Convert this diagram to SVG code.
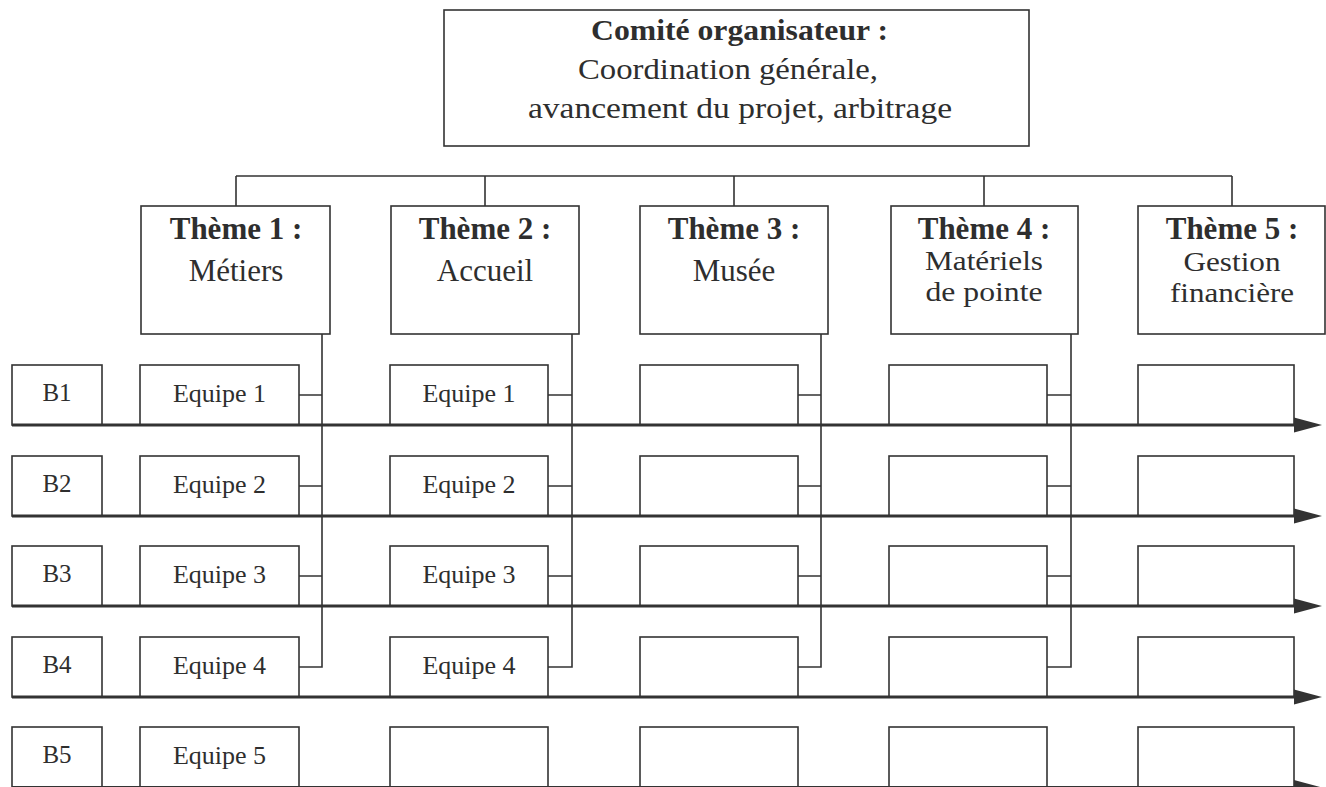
<svg xmlns="http://www.w3.org/2000/svg" width="1326" height="787" viewBox="0 0 1326 787">
  <style>
    .box { fill: #fff; stroke: #333; stroke-width: 1.6; }
    .wire { fill: none; stroke: #333; stroke-width: 1.6; }
    .axis { fill: none; stroke: #333; stroke-width: 3; }
    .head { fill: #333; }
    text { font-family: "Liberation Serif", "Times New Roman", serif; fill: #2e2e2e; }
    .title { font-size: 30px; }
    .th { font-size: 31px; text-anchor: middle; }
    .th2 { font-size: 28px; text-anchor: middle; }
    .b { font-weight: bold; }
    .eq { font-size: 26px; text-anchor: middle; }
    .bl { font-size: 25px; text-anchor: middle; }
  </style>
  <defs>
    <path id="arrowhead" class="head" d="M0,-7.5 L28,0 L0,7.5 Z"/>
  </defs>
  <rect width="1326" height="787" fill="#fff"/>

  <!-- steering committee -->
  <g id="comite">
    <rect class="box" x="444" y="10" width="585" height="136"/>
    <text class="title b" x="591" y="40" textLength="297" lengthAdjust="spacingAndGlyphs">Comité organisateur :</text>
    <text class="title" x="578" y="79" textLength="300" lengthAdjust="spacingAndGlyphs">Coordination générale,</text>
    <text class="title" x="528" y="118" textLength="424" lengthAdjust="spacingAndGlyphs">avancement du projet, arbitrage</text>
  </g>

  <!-- connectors: theme bus, theme-to-team risers -->
  <g id="connectors">
    <path class="wire" d="M236,176 H1232 M236,176 V206 M485,176 V206 M734,176 V206 M984,176 V206 M1232,176 V206"/>
    <!-- theme 1 -->
    <path class="wire" d="M322,334 V667 H299 M299,395 H322 M299,486 H322 M299,576 H322"/>
    <!-- theme 2 -->
    <path class="wire" d="M572,334 V667 H548 M548,395 H572 M548,486 H572 M548,576 H572"/>
    <!-- theme 3 -->
    <path class="wire" d="M821,334 V667 H798 M798,395 H821 M798,486 H821 M798,576 H821"/>
    <!-- theme 4 -->
    <path class="wire" d="M1071,334 V667 H1047 M1047,395 H1071 M1047,486 H1071 M1047,576 H1071"/>
  </g>

  <!-- themes -->
  <g id="theme1">
    <rect class="box" x="141" y="206" width="189" height="128"/>
    <text class="th b" x="236" y="239">Thème 1 :</text>
    <text class="th" x="236" y="281">Métiers</text>
  </g>
  <g id="theme2">
    <rect class="box" x="391" y="206" width="188" height="128"/>
    <text class="th b" x="485" y="239">Thème 2 :</text>
    <text class="th" x="485" y="281">Accueil</text>
  </g>
  <g id="theme3">
    <rect class="box" x="640" y="206" width="188" height="128"/>
    <text class="th b" x="734" y="239">Thème 3 :</text>
    <text class="th" x="734" y="281">Musée</text>
  </g>
  <g id="theme4">
    <rect class="box" x="891" y="206" width="187" height="128"/>
    <text class="th b" x="984" y="239">Thème 4 :</text>
    <text class="th2" x="984" y="270" textLength="118" lengthAdjust="spacingAndGlyphs">Matériels</text>
    <text class="th2" x="984" y="301" textLength="117" lengthAdjust="spacingAndGlyphs">de pointe</text>
  </g>
  <g id="theme5">
    <rect class="box" x="1138" y="206" width="187" height="128"/>
    <text class="th b" x="1232" y="239">Thème 5 :</text>
    <text class="th2" x="1232" y="271" textLength="97" lengthAdjust="spacingAndGlyphs">Gestion</text>
    <text class="th2" x="1232" y="302" textLength="124" lengthAdjust="spacingAndGlyphs">financière</text>
  </g>

  <!-- row B1 -->
  <g id="row1">
    <rect class="box" x="12" y="365" width="90" height="60"/>
    <text class="bl" x="57" y="401">B1</text>
    <rect class="box" x="140" y="365" width="159" height="60"/>
    <text class="eq" x="219.5" y="402">Equipe 1</text>
    <rect class="box" x="390" y="365" width="158" height="60"/>
    <text class="eq" x="469" y="402">Equipe 1</text>
    <rect class="box" x="640" y="365" width="158" height="60"/>
    <rect class="box" x="889" y="365" width="158" height="60"/>
    <rect class="box" x="1138" y="365" width="156" height="60"/>
  </g>
  <!-- row B2 -->
  <g id="row2">
    <rect class="box" x="12" y="456" width="90" height="60"/>
    <text class="bl" x="57" y="492">B2</text>
    <rect class="box" x="140" y="456" width="159" height="60"/>
    <text class="eq" x="219.5" y="493">Equipe 2</text>
    <rect class="box" x="390" y="456" width="158" height="60"/>
    <text class="eq" x="469" y="493">Equipe 2</text>
    <rect class="box" x="640" y="456" width="158" height="60"/>
    <rect class="box" x="889" y="456" width="158" height="60"/>
    <rect class="box" x="1138" y="456" width="156" height="60"/>
  </g>
  <!-- row B3 -->
  <g id="row3">
    <rect class="box" x="12" y="546" width="90" height="60"/>
    <text class="bl" x="57" y="582">B3</text>
    <rect class="box" x="140" y="546" width="159" height="60"/>
    <text class="eq" x="219.5" y="583">Equipe 3</text>
    <rect class="box" x="390" y="546" width="158" height="60"/>
    <text class="eq" x="469" y="583">Equipe 3</text>
    <rect class="box" x="640" y="546" width="158" height="60"/>
    <rect class="box" x="889" y="546" width="158" height="60"/>
    <rect class="box" x="1138" y="546" width="156" height="60"/>
  </g>
  <!-- row B4 -->
  <g id="row4">
    <rect class="box" x="12" y="637" width="90" height="60"/>
    <text class="bl" x="57" y="673">B4</text>
    <rect class="box" x="140" y="637" width="159" height="60"/>
    <text class="eq" x="219.5" y="674">Equipe 4</text>
    <rect class="box" x="390" y="637" width="158" height="60"/>
    <text class="eq" x="469" y="674">Equipe 4</text>
    <rect class="box" x="640" y="637" width="158" height="60"/>
    <rect class="box" x="889" y="637" width="158" height="60"/>
    <rect class="box" x="1138" y="637" width="156" height="60"/>
  </g>
  <!-- row B5 -->
  <g id="row5">
    <rect class="box" x="12" y="727" width="90" height="60"/>
    <text class="bl" x="57" y="763">B5</text>
    <rect class="box" x="140" y="727" width="159" height="60"/>
    <text class="eq" x="219.5" y="764">Equipe 5</text>
    <rect class="box" x="390" y="727" width="158" height="60"/>
    <rect class="box" x="640" y="727" width="158" height="60"/>
    <rect class="box" x="889" y="727" width="158" height="60"/>
    <rect class="box" x="1138" y="727" width="156" height="60"/>
  </g>

  <!-- timeline axes -->
  <g id="axes">
    <path class="axis" d="M12,425 H1298 M12,516 H1298 M12,606 H1298 M12,697 H1298 M12,787.5 H1298"/>
    <use href="#arrowhead" x="1294" y="425"/>
    <use href="#arrowhead" x="1294" y="516"/>
    <use href="#arrowhead" x="1294" y="606"/>
    <use href="#arrowhead" x="1294" y="697"/>
    <use href="#arrowhead" x="1294" y="787.5"/>
  </g>
</svg>
